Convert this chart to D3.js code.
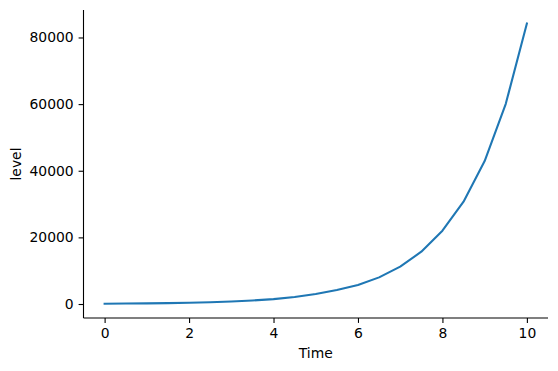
<!DOCTYPE html>
<html>
<head>
<meta charset="utf-8">
<script src="https://cdn.jsdelivr.net/npm/d3@7"></script>
<style>
    body { margin: 0; background: #fff; }
    svg text { font-family: "DejaVu Sans", sans-serif; fill: #000; }
</style>
</head>
<body>
<div id="chart"></div>
<script>
// values
let times = [0, 0.5, 1, 1.5, 2, 2.5, 3, 3.5, 4, 4.5, 5, 5.5, 6, 6.5, 7, 7.5, 8, 8.5, 9, 9.5, 10];
let levels = [100, 140, 195, 270, 380, 530, 750, 1050, 1475, 2100, 3000, 4200, 5700, 8000, 11200, 15700, 22000, 30700, 42900, 60100, 84200];
let xTicks = [0, 2, 4, 6, 8, 10];
let yTicks = [0, 20000, 40000, 60000, 80000];

let width = 558;
let height = 371;
let margin = { left: 83.5, right: 10, top: 10, bottom: 53 };

let svg = d3.select("#chart").append("svg")
    .attr("width", width)
    .attr("height", height);

let x = d3.scaleLinear()
    .domain([-0.5, 10.5])
    .range([margin.left, width - margin.right]);

let y = d3.scaleLinear()
    .domain([-4200, 88250])
    .range([height - margin.bottom, margin.top]);

let fontSize = "13.9px";

let xAxis = svg.append("g")
    .attr("transform", `translate(0,${height - margin.bottom})`)
    .call(d3.axisBottom(x).tickValues(xTicks).tickSize(4.9).tickPadding(4.9).tickFormat(d3.format("d")));

let yAxis = svg.append("g")
    .attr("transform", `translate(${margin.left},0)`)
    .call(d3.axisLeft(y).tickValues(yTicks).tickSize(4.9).tickPadding(4.9).tickFormat(d3.format("d")));

[xAxis, yAxis].forEach(g => {
    g.selectAll("path.domain").attr("stroke", "#000").attr("stroke-width", 1.1);
    g.selectAll(".tick line").attr("stroke", "#000").attr("stroke-width", 1.1);
    g.selectAll(".tick text").style("font-size", fontSize).attr("fill", "#000");
    g.attr("font-family", null);
});

// matplotlib style: no outer ticks at spine ends
xAxis.select("path.domain").attr("d", `M${x.range()[0]},0H${x.range()[1]}`);
yAxis.select("path.domain").attr("d", `M0,${y.range()[0]}V${y.range()[1]}`);

let line = d3.line()
    .x((d, i) => x(times[i]))
    .y(d => y(d));

svg.append("path")
    .datum(levels)
    .attr("fill", "none")
    .attr("stroke", "#1f77b4")
    .attr("stroke-width", 2.08)
    .attr("stroke-linejoin", "round")
    .attr("stroke-linecap", "square")
    .attr("d", line);

svg.append("text")
    .attr("x", (x.range()[0] + x.range()[1]) / 2)
    .attr("y", 358)
    .attr("text-anchor", "middle")
    .style("font-size", fontSize)
    .text("Time");

svg.append("text")
    .attr("transform", `translate(21,${(y.range()[0] + y.range()[1]) / 2}) rotate(-90)`)
    .attr("text-anchor", "middle")
    .style("font-size", fontSize)
    .text("level");
</script>
</body>
</html>
